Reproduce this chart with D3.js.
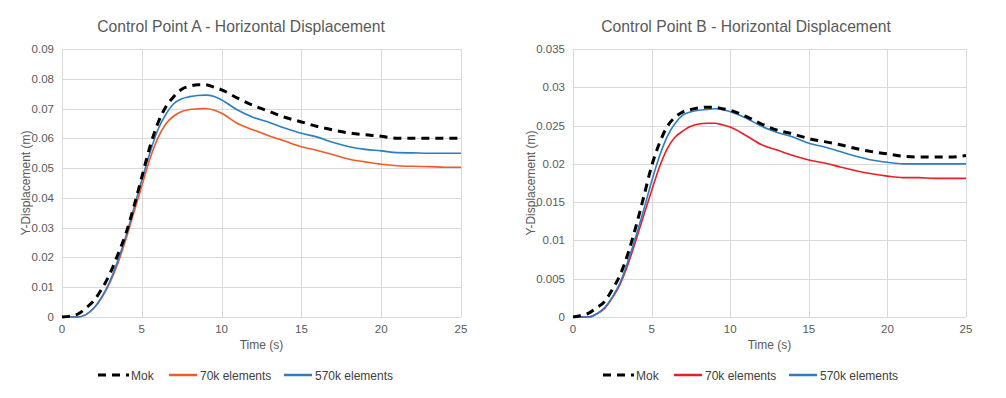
<!DOCTYPE html>
<html><head><meta charset="utf-8">
<script src="https://cdn.jsdelivr.net/npm/d3@7"></script>
<style>body{margin:0;background:#fff;}svg{display:block;font-family:"Liberation Sans",Arial,sans-serif;}</style>
</head><body><svg id="c" width="1006" height="398"></svg>
<script>
const timeA = [0,0.5,1,1.5,2,2.5,3,3.5,4,4.5,5,5.5,6,6.5,7,7.5,8,8.5,9,9.5,10,11,12,13,14,15,16,17,18,19,20,21,22,23,24,25];
const mokA  = [0,0.0003,0.001,0.003,0.0055,0.0095,0.0145,0.021,0.028,0.037,0.047,0.057,0.065,0.0705,0.074,0.0765,0.0775,0.078,0.078,0.0772,0.0763,0.0735,0.071,0.069,0.067,0.0655,0.064,0.0628,0.0618,0.0612,0.0607,0.060,0.060,0.060,0.060,0.060];
const k570A = [0,0,0,0.0008,0.003,0.0068,0.012,0.019,0.027,0.0365,0.046,0.055,0.0628,0.068,0.0716,0.0733,0.074,0.0744,0.0745,0.0741,0.0729,0.0695,0.067,0.0653,0.0634,0.0617,0.0604,0.0586,0.0572,0.0563,0.0558,0.0552,0.0551,0.055,0.055,0.055];
const k70A  = [0,0,0,0.0008,0.003,0.0065,0.0115,0.018,0.026,0.035,0.044,0.053,0.060,0.0648,0.0675,0.069,0.0697,0.0699,0.070,0.0695,0.0684,0.065,0.0628,0.0608,0.059,0.0572,0.0559,0.0545,0.053,0.0521,0.0513,0.0508,0.0506,0.0505,0.0503,0.0503];

const timeB = [0,0.5,1,1.5,2,2.5,3,3.5,4,4.5,5,5.5,6,6.5,7,7.5,8,8.5,9,9.5,10,11,12,13,14,15,16,17,18,19,20,21,22,23,24,25];
const mokB  = [0,0.0002,0.0005,0.0012,0.002,0.0036,0.0055,0.0083,0.0118,0.0157,0.0197,0.0227,0.0249,0.0261,0.0268,0.0271,0.0273,0.0274,0.0274,0.0272,0.027,0.0262,0.0252,0.0244,0.0239,0.0233,0.0229,0.0225,0.022,0.0216,0.0213,0.021,0.0209,0.0209,0.0209,0.0211];
const k570B = [0,0,0,0.0004,0.0012,0.0026,0.0045,0.0073,0.0105,0.014,0.0177,0.021,0.0236,0.0253,0.0264,0.0268,0.027,0.0271,0.0272,0.0271,0.0268,0.026,0.0249,0.0241,0.0235,0.0227,0.0222,0.0216,0.021,0.0205,0.0202,0.020,0.020,0.020,0.020,0.020];
const k70B  = [0,0,0,0.0004,0.0011,0.0025,0.0043,0.0069,0.010,0.0133,0.0165,0.0196,0.022,0.0235,0.0243,0.0249,0.0252,0.0253,0.0253,0.0251,0.0248,0.0237,0.0225,0.0218,0.0211,0.0205,0.0201,0.0196,0.0191,0.0187,0.0184,0.0182,0.0182,0.0181,0.0181,0.0181];

const xTicks = [0,5,10,15,20,25];
const yTicksA = [0,0.01,0.02,0.03,0.04,0.05,0.06,0.07,0.08,0.09];
const yTicksB = [0,0.005,0.01,0.015,0.02,0.025,0.03,0.035];
const seriesNames = ["Mok","70k elements","570k elements"];
const titles = ["Control Point A - Horizontal Displacement","Control Point B - Horizontal Displacement"];

const svg = d3.select("#c");
const charts = [
  {title:titles[0], t:timeA, s:[mokA,k70A,k570A], yMax:0.09, yTicks:yTicksA, x0:62, x1:461, titleX:241, yLabX:26, colors:["#000","#F4592A","#2A7EC6"], legX:98},
  {title:titles[1], t:timeB, s:[mokB,k70B,k570B], yMax:0.035, yTicks:yTicksB, x0:573, x1:966, titleX:746, yLabX:531, colors:["#000","#EE1D23","#2A7EC6"], legX:603}
];
const plotTop=49, plotBottom=317;
charts.forEach(c=>{
  const g = svg.append("g");
  const x = d3.scaleLinear().domain([0,25]).range([c.x0,c.x1]);
  const y = d3.scaleLinear().domain([0,c.yMax]).range([plotBottom,plotTop]);
  g.selectAll(".hg").data(c.yTicks).join("line").attr("x1",c.x0).attr("x2",c.x1)
    .attr("y1",d=>Math.round(y(d))+0.5).attr("y2",d=>Math.round(y(d))+0.5).attr("stroke","#D9D9D9").attr("stroke-width",1);
  g.selectAll(".vg").data(xTicks).join("line").attr("y1",plotTop).attr("y2",plotBottom)
    .attr("x1",d=>Math.round(x(d))+0.5).attr("x2",d=>Math.round(x(d))+0.5).attr("stroke","#D9D9D9").attr("stroke-width",1);
  g.selectAll(".yl").data(c.yTicks).join("text").attr("x",c.x0-8).attr("y",d=>y(d)+4)
    .attr("text-anchor","end").attr("font-size",11.5).attr("fill","#595959").text(d=>String(d));
  g.selectAll(".xl").data(xTicks).join("text").attr("x",d=>x(d)).attr("y",333)
    .attr("text-anchor","middle").attr("font-size",11.5).attr("fill","#595959").text(d=>String(d));
  g.append("text").attr("x",(c.x0+c.x1)/2).attr("y",349).attr("text-anchor","middle")
    .attr("font-size",12).attr("fill","#595959").text("Time (s)");
  g.append("text").attr("transform",`translate(${c.yLabX+4},${(plotTop+plotBottom)/2}) rotate(-90)`)
    .attr("text-anchor","middle").attr("font-size",12).attr("fill","#595959").text("Y-Displacement (m)");
  g.append("text").attr("x",c.titleX).attr("y",32).attr("text-anchor","middle")
    .attr("font-size",15.7).attr("fill","#595959").text(c.title);
  const line = d3.line().x(d=>x(d[0])).y(d=>y(d[1])).curve(d3.curveMonotoneX);
  [1,2,0].forEach(i=>{
    const pts = c.t.map((t,j)=>[t,c.s[i][j]]);
    const p = g.append("path").attr("d",line(pts)).attr("fill","none").attr("stroke",c.colors[i]);
    if(i===0) p.attr("stroke-width",3).attr("stroke-dasharray","8,6");
    else p.attr("stroke-width",1.6);
  });
  const ly = 375;
  const offs = [0,71,186];
  seriesNames.forEach((n,i)=>{
    const lx = c.legX + offs[i];
    const ln = g.append("line").attr("x1",lx).attr("x2",lx+(i===0?31:28)).attr("y1",ly).attr("y2",ly).attr("stroke",c.colors[i]);
    if(i===0) ln.attr("stroke-width",3).attr("stroke-dasharray","8,6");
    else ln.attr("stroke-width",2.5);
    g.append("text").attr("x",lx+(i===0?33:31)).attr("y",ly+4.5).attr("font-size",12).attr("fill","#404040").text(n);
  });
});
</script></body></html>
